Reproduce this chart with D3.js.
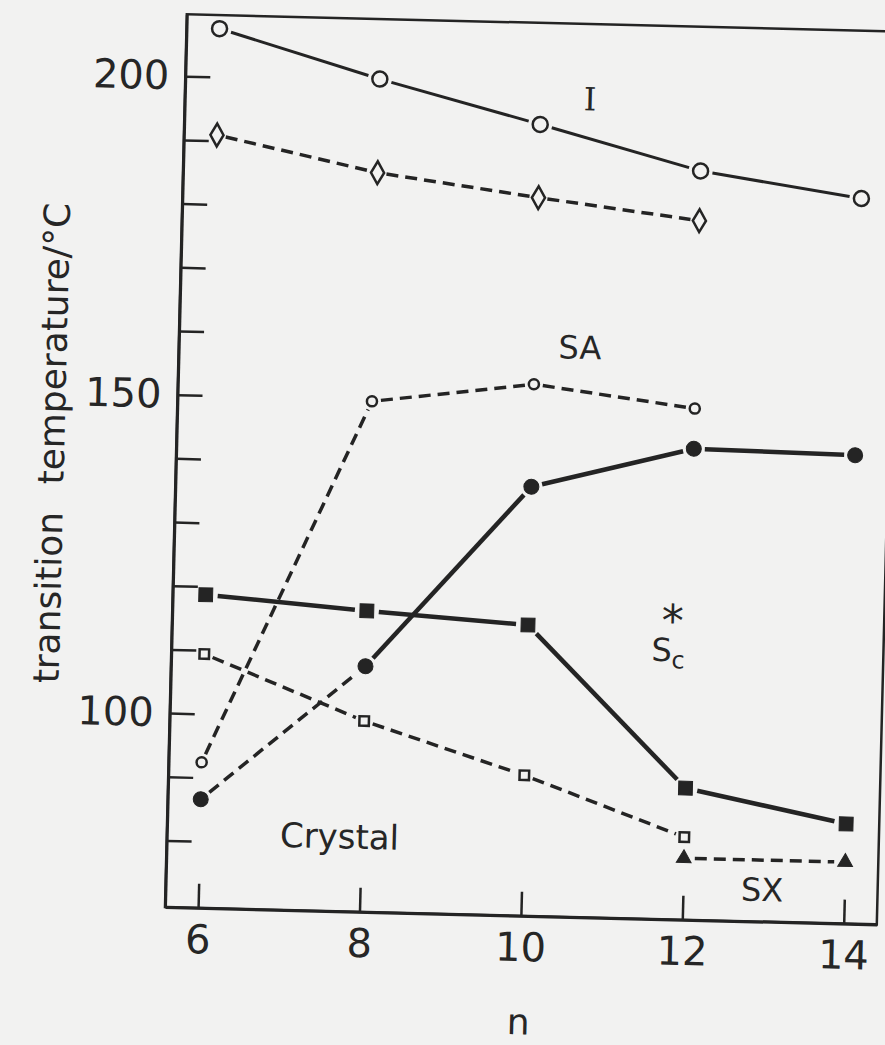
<!DOCTYPE html>
<html>
<head>
<meta charset="utf-8">
<script src="https://cdn.jsdelivr.net/npm/d3@7"></script>
<style>
  html, body { margin: 0; padding: 0; background: #f2f2f1; }
  svg { display: block; }
  text { font-family: 'DejaVu Sans', sans-serif; fill: #262626; }
</style>
</head>
<body>
<div id="chart"></div>
<script>
// n values (number of carbons) and transition temperatures
const nValues = [6, 8, 10, 12, 14];
const yTicks = [80, 90, 100, 110, 120, 130, 140, 150, 160, 170, 180, 190, 200];

const isoN = [6, 8, 10, 12, 14];
const isoT = [207.6, 200.3, 193.8, 187.1, 183.4];       // open circles, solid

const diamondN = [6, 8, 10, 12];
const diamondT = [190.9, 185.6, 182.3, 179.3];          // diamonds, dashed

const smaN = [6, 8, 10, 12];
const smaT = [92.4, 149.7, 153.0, 149.8];               // small open circles, dashed

const dotN = [6, 8, 10, 12, 14];
const dotT = [86.6, 108.1, 136.9, 143.5, 143.1];        // filled circles
const dotStyle = ['dash', 'solid', 'solid', 'solid'];

const sqN = [6, 8, 10, 12, 14];
const sqT = [118.7, 116.8, 115.2, 90.2, 85.2];          // filled squares, solid

const openSqN = [6, 8, 10, 12];
const openSqT = [109.4, 99.5, 91.6, 82.5];              // open squares, dashed

const triN = [12, 14];
const triT = [79.2, 79.2];                              // filled triangles, dashed

// phase labels (n, temperature)
const labels = [
  { text: 'SA', n: 10.56, t: 158.9, size: 32 },
  { text: 'Crystal', n: 7.73, t: 81.3, size: 34 },
  { text: 'SX', n: 12.98, t: 74.5, size: 32 },
];

const width = 885, height = 1045;
const ink = '#242424';

const svg = d3.select('#chart').append('svg')
    .attr('width', width)
    .attr('height', height);

// the scanned figure sits slightly rotated on the page
const g = svg.append('g').attr('transform', 'rotate(1.4, 165, 907)');

const x = d3.scaleLinear().domain([5.59, 14.41]).range([165, 877]);
const y = d3.scaleLinear().domain([69.55, 209.73]).range([907, 14]);

// frame
g.append('rect')
    .attr('x', x.range()[0])
    .attr('y', y.range()[1])
    .attr('width', x.range()[1] - x.range()[0])
    .attr('height', y.range()[0] - y.range()[1])
    .attr('fill', 'none')
    .attr('stroke', ink)
    .attr('stroke-width', 2.5);

const yAxis = g.append('g')
    .attr('transform', `translate(${x.range()[0]},0)`)
    .call(d3.axisLeft(y)
        .tickValues(yTicks)
        .tickSizeInner(-25)
        .tickSizeOuter(0)
        .tickPadding(16)
        .tickFormat(d => d % 50 === 0 ? d : ''));

const xAxis = g.append('g')
    .attr('transform', `translate(0,${y.range()[0]})`)
    .call(d3.axisBottom(x)
        .tickValues(nValues)
        .tickSizeInner(-24)
        .tickSizeOuter(0)
        .tickPadding(17));

[yAxis, xAxis].forEach(ax => {
  ax.select('.domain').attr('stroke', ink).attr('stroke-width', 3);
  ax.selectAll('.tick line').attr('stroke', ink).attr('stroke-width', 2.5);
  ax.selectAll('.tick text')
      .attr('fill', ink)
      .style('font-family', "'DejaVu Sans', sans-serif")
      .style('font-size', '40px');
});

// axis titles
g.append('text')
    .attr('transform', `translate(53,446) rotate(-90)`)
    .attr('text-anchor', 'middle')
    .style('font-size', '36px')
    .style('word-spacing', '16px')
    .text('transition temperature/°C');

g.append('text')
    .attr('x', x(10))
    .attr('y', 1013)
    .attr('text-anchor', 'middle')
    .attr('dominant-baseline', 'central')
    .style('font-size', '36px')
    .text('n');

function drawSeries(ns, ts, opt) {
  const pts = ns.map((n, i) => [x(n), y(ts[i])]);
  const gap = opt.gap;
  for (let i = 0; i < pts.length - 1; i++) {
    const [x0, y0] = pts[i], [x1, y1] = pts[i + 1];
    const len = Math.hypot(x1 - x0, y1 - y0);
    const ux = (x1 - x0) / len, uy = (y1 - y0) / len;
    const style = opt.styles ? opt.styles[i] : opt.style;
    g.append('line')
        .attr('x1', x0 + ux * gap).attr('y1', y0 + uy * gap)
        .attr('x2', x1 - ux * gap).attr('y2', y1 - uy * gap)
        .attr('stroke', ink)
        .attr('stroke-width', style === 'dash' ? 3.5 : opt.width)
        .attr('stroke-dasharray', style === 'dash' ? '12,7' : null);
  }
  g.append('g').selectAll('path')
    .data(pts)
    .join('path')
      .attr('transform', d => `translate(${d[0]},${d[1]})`)
      .attr('d', d3.symbol().type(opt.symbol).size(opt.size))
      .attr('fill', opt.filled ? ink : 'none')
      .attr('stroke', ink)
      .attr('stroke-width', opt.filled ? 1 : 2.5);
}

drawSeries(isoN, isoT, { symbol: d3.symbolCircle, size: 177, filled: false, style: 'solid', width: 3, gap: 12 });
drawSeries(diamondN, diamondT, { symbol: d3.symbolDiamond, size: 150, filled: false, style: 'dash', width: 3, gap: 9 });
drawSeries(smaN, smaT, { symbol: d3.symbolCircle, size: 80, filled: false, style: 'dash', width: 3, gap: 9 });
drawSeries(dotN, dotT, { symbol: d3.symbolCircle, size: 177, filled: true, styles: dotStyle, width: 4.5, gap: 11 });
drawSeries(sqN, sqT, { symbol: d3.symbolSquare, size: 190, filled: true, style: 'solid', width: 4.5, gap: 12 });
drawSeries(openSqN, openSqT, { symbol: d3.symbolSquare, size: 90, filled: false, style: 'dash', width: 3, gap: 9 });
drawSeries(triN, triT, { symbol: d3.symbolTriangle, size: 95, filled: true, style: 'dash', width: 3, gap: 11 });

// phase labels
g.selectAll('text.phase')
  .data(labels)
  .join('text')
    .attr('class', 'phase')
    .attr('x', d => x(d.n))
    .attr('y', d => y(d.t))
    .attr('text-anchor', 'middle')
    .attr('dominant-baseline', 'central')
    .style('font-size', d => d.size + 'px')
    .text(d => d.text);

g.append('text')
    .attr('x', x(10.61))
    .attr('y', y(197.9))
    .attr('text-anchor', 'middle')
    .attr('dominant-baseline', 'central')
    .style('font-family', "'DejaVu Serif', serif")
    .style('font-size', '32px')
    .text('I');

// asterisk: glyph centre sits about 0.59em above the baseline
g.append('text')
    .attr('x', x(11.79))
    .attr('y', y(118.1) + 0.59 * 44)
    .attr('text-anchor', 'middle')
    .style('font-size', '44px')
    .text('*');

const sc = g.append('text')
    .attr('x', x(11.66) - 10)
    .attr('y', y(111.8))
    .attr('dominant-baseline', 'central')
    .style('font-size', '32px');
sc.append('tspan').text('S');
sc.append('tspan').attr('dy', 10).style('font-size', '24px').text('c');
</script>
</body>
</html>
